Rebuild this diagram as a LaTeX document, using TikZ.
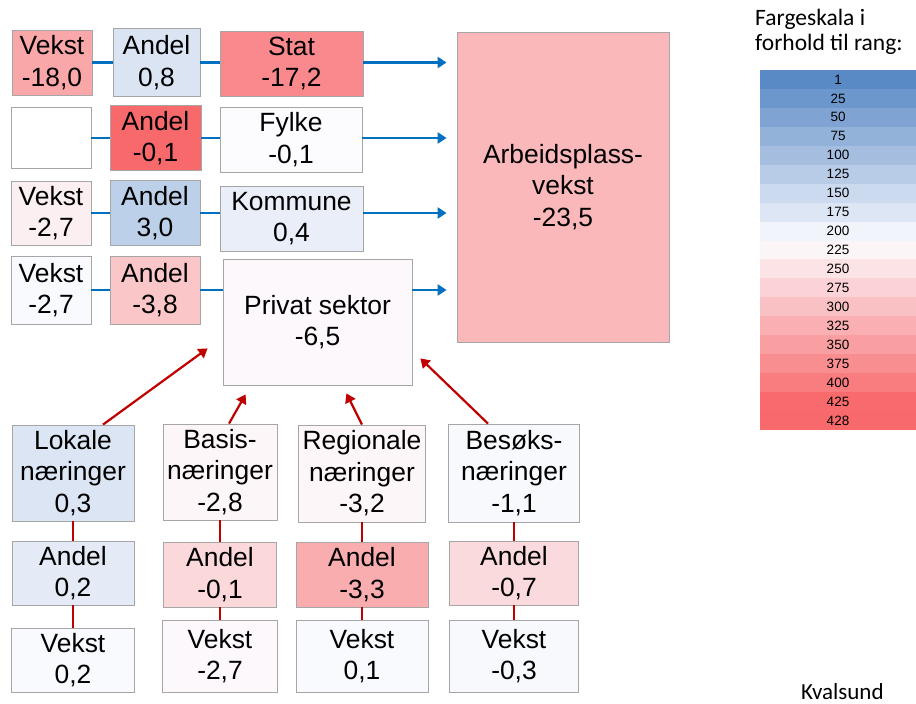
\documentclass[tikz,border=0pt]{standalone}
\usepackage{fontspec}
\setmainfont{Liberation Sans}
\newfontfamily\calibri{Carlito}
\usetikzlibrary{arrows.meta}

\definecolor{scblue}{HTML}{5A8AC6}
\definecolor{scwhite}{HTML}{FCFCFF}
\definecolor{scred}{HTML}{F8696B}
\definecolor{boxline}{HTML}{A6A6A6}
\definecolor{linkblue}{HTML}{0070C0}
\definecolor{arrowred}{HTML}{C00000}

\begin{document}
\begin{tikzpicture}[x=1pt,y=-1pt,
			box/.style={draw=boxline,line width=0.8pt,align=center,inner sep=1pt,
				font=\fontsize{26.4}{31.5}\selectfont},
			flow/.style={linkblue,line width=2.5pt},
			feed/.style={arrowred,line width=2.2pt},
			headed/.style={-{Triangle[length=9pt,width=11pt]}},
			scalecell/.style={minimum width=156pt,minimum height=19pt,inner sep=0pt,
				font=\fontsize{13.5}{14}\selectfont}]
\useasboundingbox (0,0) rectangle (916,704);

% rows: Vekst, Andel, level
\node[box,fill=scred!58!scwhite,minimum width=80pt,minimum height=65pt] (v1) at (52,62.5) {Vekst\\-18,0};
\node[box,fill=scblue!21!scwhite,minimum width=87pt,minimum height=68pt] (a1) at (156.5,62.5) {Andel\\0,8};
\node[box,fill=scred!78!scwhite,minimum width=143pt,minimum height=65pt] (stat) at (291.5,63.5) {Stat\\-17,2};

\node[box,fill=white,minimum width=80pt,minimum height=61pt] (v2) at (51,138) {};
\node[box,fill=scred,minimum width=91pt,minimum height=65pt] (a2) at (155.5,138) {Andel\\-0,1};
\node[box,fill=scwhite,minimum width=142pt,minimum height=65pt] (fylke) at (291,139.5) {Fylke\\-0,1};

\node[box,fill=scred!9!scwhite,minimum width=80pt,minimum height=64pt] (v3) at (51,213) {Vekst\\-2,7};
\node[box,fill=scblue!39!scwhite,minimum width=90pt,minimum height=65pt] (a3) at (155,213) {Andel\\3,0};
\node[box,fill=scblue!12!scwhite,minimum width=143pt,minimum height=65pt] (komm) at (291.5,218.5) {Kommune\\0,4};

\node[box,fill=scblue!2!scwhite,minimum width=80pt,minimum height=68pt] (v4) at (51,290) {Vekst\\-2,7};
\node[box,fill=scred!37!scwhite,minimum width=90pt,minimum height=68pt] (a4) at (155,290) {Andel\\-3,8};
\node[box,fill=scred!3!scwhite,minimum width=189pt,minimum height=126pt] (priv) at (317.5,322) {Privat sektor\\-6,5};

\node[box,fill=scred!46!scwhite,minimum width=212pt,minimum height=310pt] (arb) at (563,187) {Arbeidsplass-\\vekst\\-23,5};

\foreach \v/\a/\t in {v1/a1/stat,v2/a2/fylke,v3/a3/komm,v4/a4/priv}{
	\draw[flow] (\v) -- (\a) (\a) -- (\a -| \t.west);
	\draw[flow,headed,shorten >=10pt] (\a -| \t.east) -- (\a -| arb.west);
}

% private sector split
\node[box,fill=scblue!20!scwhite,minimum width=122pt,minimum height=96pt] (lok) at (73,473) {Lokale\\næringer\\0,3};
\node[box,fill=scblue!15!scwhite,minimum width=122pt,minimum height=64pt] (lokA) at (73,573) {Andel\\0,2};
\node[box,fill=scblue!2!scwhite,minimum width=123pt,minimum height=64pt] (lokV) at (73,660) {Vekst\\0,2};

\node[box,fill=scred!4!scwhite,minimum width=114pt,minimum height=96pt] (bas) at (220,472) {Basis-\\næringer\\-2,8};
\node[box,fill=scred!24!scwhite,minimum width=113pt,minimum height=65pt] (basA) at (220,574.5) {Andel\\-0,1};
\node[box,fill=scred!3!scwhite,minimum width=115pt,minimum height=72pt] (basV) at (220,656) {Vekst\\-2,7};

\node[box,fill=scred!4!scwhite,minimum width=127pt,minimum height=97pt] (reg) at (362,473.5) {Regionale\\næringer\\-3,2};
\node[box,fill=scred!54!scwhite,minimum width=132pt,minimum height=65pt] (regA) at (362,574.5) {Andel\\-3,3};
\node[box,fill=scblue!2!scwhite,minimum width=132pt,minimum height=72pt] (regV) at (362,656) {Vekst\\0,1};

\node[box,fill=scblue!3!scwhite,minimum width=131pt,minimum height=98pt] (bes) at (514,473) {Besøks-\\næringer\\-1,1};
\node[box,fill=scred!23!scwhite,minimum width=129pt,minimum height=64pt] (besA) at (514,573) {Andel\\-0,7};
\node[box,fill=scblue!3!scwhite,minimum width=129pt,minimum height=72pt] (besV) at (514,656) {Vekst\\-0,3};

\foreach \n in {lok,bas,reg,bes}
	\draw[feed] (\n) -- (\n A) -- (\n V);

\draw[feed,headed] ([xshift=30pt]lok.north) -- ([xshift=-15pt,yshift=37pt]priv.south west);
\draw[feed,headed] ([xshift=9pt]bas.north) -- ([xshift=23pt,yshift=-9pt]priv.south west);
\draw[feed,headed] (reg.north) -- ([xshift=-66pt,yshift=-8pt]priv.south east);
\draw[feed,headed] ([xshift=-26pt]bes.north) -- ([xshift=8pt,yshift=27pt]priv.south east);

% colour scale
\node[anchor=north west,align=left,inner sep=0pt,font=\calibri\fontsize{23.5}{25}\selectfont] (head) at (755,9) {Fargeskala i\\forhold til rang:};
\foreach \v/\c [count=\i] in {1/scblue,25/scblue!89!scwhite,50/scblue!77!scwhite,75/scblue!65!scwhite,
		100/scblue!54!scwhite,125/scblue!42!scwhite,150/scblue!30!scwhite,175/scblue!19!scwhite,
		200/scblue!7!scwhite,225/scred!5!scwhite,250/scred!17!scwhite,275/scred!28!scwhite,
		300/scred!40!scwhite,325/scred!52!scwhite,350/scred!63!scwhite,375/scred!75!scwhite,
		400/scred!87!scwhite,425/scred!99!scwhite,428/scred}
	\node[scalecell,fill=\c] (s\i) at (838,{60.5+18.95*\i}) {\v};

\node[anchor=base west,inner sep=0pt,font=\calibri\fontsize{23}{25}\selectfont] (place) at (801,699) {Kvalsund};
\end{tikzpicture}
\end{document}
